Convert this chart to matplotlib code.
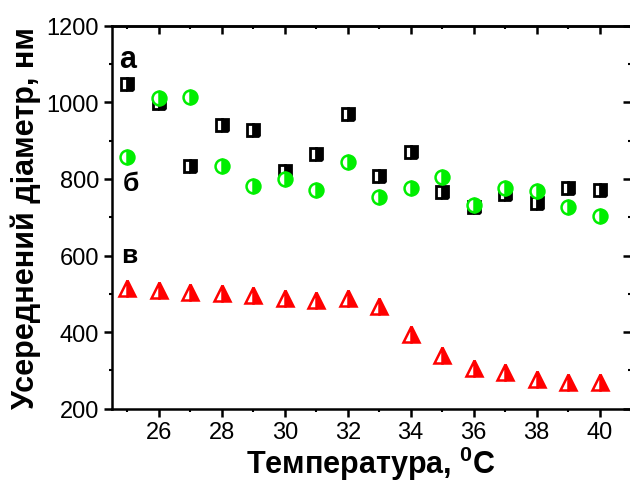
import numpy as np
import matplotlib
matplotlib.use('Agg')
import matplotlib.pyplot as plt
from matplotlib.ticker import MultipleLocator

plt.rcParams['font.family'] = ['Liberation Sans', 'DejaVu Sans']
plt.rcParams['mathtext.fontset'] = 'custom'
plt.rcParams['mathtext.bf'] = 'Liberation Sans:bold'
plt.rcParams['mathtext.rm'] = 'Liberation Sans'

# температура, °C
temperature = [25, 26, 27, 28, 29, 30, 31, 32, 33, 34, 35, 36, 37, 38, 39, 40]
# серії а, б, в (нм)
diam_a = [1048, 999, 834, 941, 928, 820, 865, 970, 807, 870, 765, 726, 760, 737, 776, 771]
diam_b = [857, 1011, 1015, 834, 782, 800, 771, 844, 752, 776, 804, 731, 776, 769, 726, 703]
diam_c = [514, 511, 504, 501, 497, 488, 485, 490, 468, 394, 340, 306, 295, 278, 271, 269]

fig = plt.figure(figsize=(6.3, 4.81), dpi=100)
ax = fig.add_axes([0.1773, 0.1482, 0.8243, 0.7963])

ax.plot(temperature, diam_a, linestyle='none', marker='s', markersize=8.3,
        color='black', markerfacecolor='black', markerfacecoloralt='white',
        fillstyle='right', markeredgewidth=2.0)
ax.plot(temperature, diam_b, linestyle='none', marker='o', markersize=10,
        color='#00ee00', markerfacecolor='#00ee00', markerfacecoloralt='white',
        fillstyle='right', markeredgewidth=1.8)
ax.plot(temperature, diam_c, linestyle='none', marker='^', markersize=11,
        color='red', markerfacecolor='red', markerfacecoloralt='white',
        fillstyle='right', markeredgewidth=1.8)

ax.set_xlim(24.5, 41.0)
ax.set_ylim(200, 1200)
ax.xaxis.set_major_locator(MultipleLocator(2))
ax.xaxis.set_minor_locator(MultipleLocator(1))
ax.yaxis.set_major_locator(MultipleLocator(200))
ax.yaxis.set_minor_locator(MultipleLocator(100))

for s in ax.spines.values():
    s.set_linewidth(1.8)

ax.tick_params(which='major', direction='out', length=6, width=1.8, labelsize=17, pad=3)
ax.tick_params(which='minor', direction='out', length=2.5, width=1.5)

top = ax.secondary_xaxis('top')
top.xaxis.set_major_locator(MultipleLocator(2))
top.xaxis.set_minor_locator(MultipleLocator(1))
top.tick_params(which='major', direction='in', length=6, width=1.8, labeltop=False)
top.tick_params(which='minor', direction='in', length=2.5, width=1.5)
top.spines['top'].set_linewidth(1.8)

right = ax.secondary_yaxis('right')
right.yaxis.set_major_locator(MultipleLocator(200))
right.yaxis.set_minor_locator(MultipleLocator(100))
right.tick_params(which='major', direction='in', length=6, width=1.8, labelright=False)
right.tick_params(which='minor', direction='in', length=2.5, width=1.5)

ax.set_xlabel('Температура, $^\\mathbf{0}$C', fontsize=22, fontweight='bold', labelpad=0)
ax.set_ylabel('Усереднений діаметр, нм', fontsize=22, fontweight='bold', labelpad=4)

ax.text(25.0, 1114, 'а', fontsize=22, fontweight='bold', ha='center', va='center')
ax.text(25.1, 790, 'б', fontsize=19, fontweight='bold', ha='center', va='center')
ax.text(25.05, 602, 'в', fontsize=19, fontweight='bold', ha='center', va='center')

fig.savefig('out.png', dpi=100)
